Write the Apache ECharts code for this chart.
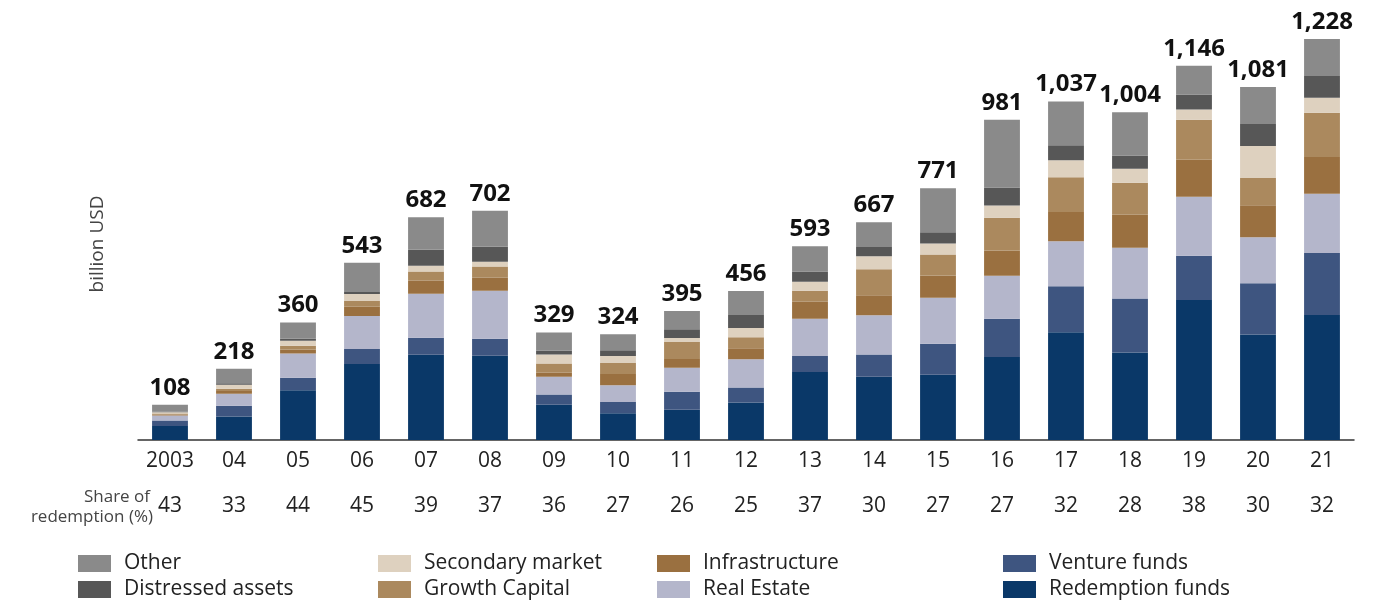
<!DOCTYPE html>
<html>
<head>
<meta charset="utf-8">
<title>Private capital redemptions</title>
<script src="https://cdn.jsdelivr.net/npm/echarts@6/dist/echarts.min.js"></script>
<style>
    html, body { margin: 0; padding: 0; background: #fff; }
    #redemption_chart { width: 1385px; height: 602px; }
</style>
</head>
<body>
<div id="redemption_chart"></div>
<script>

// Chart data
// ------------------------------

var years = ['2003', '04', '05', '06', '07', '08', '09', '10', '11', '12', '13', '14', '15', '16', '17', '18', '19', '20', '21'];
var shares = ['43', '33', '44', '45', '39', '37', '36', '27', '26', '25', '37', '30', '27', '27', '32', '28', '38', '30', '32'];
var totals = [108, 218, 360, 543, 682, 702, 329, 324, 395, 456, 593, 667, 771, 981, 1037, 1004, 1146, 1081, 1228];

// billion USD, bottom to top of each stack
var redemptionFunds = [43, 72, 152, 233, 261, 258, 108, 82, 93, 115, 208, 194, 200, 254, 330, 268, 429, 323, 383];
var ventureFunds    = [17, 33, 39, 46, 52, 52, 31, 34, 55, 46, 49, 68, 95, 117, 141, 165, 135, 157, 190];
var realEstate      = [15, 37, 74, 101, 135, 147, 55, 52, 73, 86, 114, 120, 141, 132, 138, 156, 181, 141, 181];
var infrastructure  = [2, 8, 12, 28, 40, 40, 12, 34, 27, 34, 52, 61, 68, 77, 89, 101, 113, 98, 113];
var growthCapital   = [4, 7, 12, 18, 28, 34, 28, 34, 52, 34, 34, 80, 64, 101, 107, 98, 123, 83, 135];
var secondaryMarket = [4, 12, 15, 21, 18, 15, 28, 21, 12, 28, 28, 40, 34, 37, 52, 43, 31, 98, 46];
var distressed      = [2, 5, 6, 6, 49, 46, 12, 18, 27, 40, 31, 28, 34, 55, 46, 40, 46, 68, 67];
var other           = [21, 44, 50, 90, 99, 110, 55, 49, 56, 73, 77, 76, 135, 208, 134, 133, 88, 113, 113];


// Setup module
// ------------------------------

var RedemptionBars = function() {

    var fontFamily = '"Open Sans", "Noto Sans", sans-serif';

    // thousands separator for the totals
    var withCommas = function(n) {
        return String(n).replace(/\B(?=(\d{3})+(?!\d))/g, ',');
    };

    var makeSeries = function(name, data, color, withTotal) {
        var s = {
            name: name,
            type: 'bar',
            stack: 'total',
            barWidth: '56%',
            data: data,
            itemStyle: { color: color },
            emphasis: { disabled: true }
        };
        if (withTotal) {
            s.label = {
                show: true,
                position: 'top',
                distance: 5,
                color: '#111',
                fontFamily: fontFamily,
                fontWeight: 'bold',
                fontSize: 24,
                formatter: function(p) {
                    return withCommas(totals[p.dataIndex]);
                }
            };
        }
        return s;
    };

    // one legend entry per component, laid out as a 4 x 2 table
    var legendItem = function(left, top, name) {
        return {
            left: left,
            top: top,
            padding: 0,
            icon: 'rect',
            itemWidth: 33,
            itemHeight: 17,
            selectedMode: false,
            data: [name],
            textStyle: {
                fontFamily: fontFamily,
                fontSize: 21,
                color: '#222',
                padding: [0, 0, 0, 8]
            }
        };
    };

    var plainText = function(text, x, y, size, align, rotation) {
        return {
            type: 'text',
            x: x,
            y: y,
            rotation: rotation || 0,
            style: {
                text: text,
                fontFamily: fontFamily,
                fontSize: size,
                fill: '#444',
                align: align,
                verticalAlign: 'middle'
            }
        };
    };

    var _chart = function() {
        if (typeof echarts == 'undefined') {
            console.warn('Warning - echarts.min.js is not loaded.');
            return;
        }

        var el = document.getElementById('redemption_chart');
        var chart = echarts.init(el);

        chart.setOption({
            animation: false,
            textStyle: { fontFamily: fontFamily },

            grid: {
                left: 138,
                right: 31,
                top: 15.5,
                bottom: 162
            },

            legend: [
                legendItem(78, 553, 'Other'),
                legendItem(78, 579, 'Distressed assets'),
                legendItem(378, 553, 'Secondary market'),
                legendItem(378, 579, 'Growth Capital'),
                legendItem(657, 553, 'Infrastructure'),
                legendItem(657, 579, 'Real Estate'),
                legendItem(1003, 553, 'Venture funds'),
                legendItem(1003, 579, 'Redemption funds')
            ],

            xAxis: [{
                type: 'category',
                data: years,
                axisLine: { lineStyle: { color: '#333', width: 1.5 } },
                axisTick: { show: false },
                axisLabel: {
                    color: '#222',
                    fontSize: 21,
                    margin: 11
                }
            }, {
                type: 'category',
                position: 'bottom',
                offset: 45,
                data: shares,
                axisLine: { show: false },
                axisTick: { show: false },
                axisLabel: {
                    color: '#222',
                    fontSize: 21,
                    margin: 11
                }
            }],

            yAxis: {
                type: 'value',
                min: 0,
                max: 1300,
                show: false
            },

            graphic: [
                plainText('billion USD', 98, 244, 19, 'center', Math.PI / 2),
                plainText('Share of', 150, 497, 17, 'right'),
                plainText('redemption (%)', 153, 517, 17, 'right')
            ],

            series: [
                makeSeries('Redemption funds', redemptionFunds, '#0a3868'),
                makeSeries('Venture funds', ventureFunds, '#3e5580'),
                makeSeries('Real Estate', realEstate, '#b4b6cb'),
                makeSeries('Infrastructure', infrastructure, '#9a7040'),
                makeSeries('Growth Capital', growthCapital, '#ab895e'),
                makeSeries('Secondary market', secondaryMarket, '#ded1bf'),
                makeSeries('Distressed assets', distressed, '#575757'),
                makeSeries('Other', other, '#8a8a8a', true)
            ]
        });
    };

    return {
        init: function() {
            _chart();
        }
    };
}();


// Initialize module
// ------------------------------

document.addEventListener('DOMContentLoaded', function() {
    RedemptionBars.init();
});
</script>
</body>
</html>
